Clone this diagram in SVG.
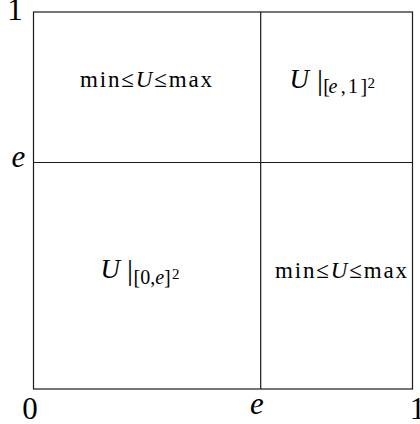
<svg xmlns="http://www.w3.org/2000/svg" width="420" height="424" viewBox="0 0 420 424">
<style>
.ln{stroke:#1a1a1a;stroke-width:1.2;fill:none}
text{font-family:'Liberation Serif','Times New Roman',serif;fill:#000}
.it{font-style:italic}
.ax{font-size:31px}
.mm{font-size:23px}
.U{font-size:27px}
.bar{font-size:30px;font-style:normal}
.sub{font-size:20px}
.sup{font-size:15px}
</style>
<rect width="420" height="424" fill="#fff"/>
<g id="grid">
<rect class="ln" x="33.5" y="12" width="379" height="377"/>
<line class="ln" x1="260.7" y1="12" x2="260.7" y2="389"/>
<line class="ln" x1="33.5" y1="162.5" x2="412.5" y2="162.5"/>
</g>
<g id="axis-labels">
<text class="ax" x="15" y="19.5" text-anchor="middle">1</text>
<text class="ax it" x="18.5" y="167" text-anchor="middle">e</text>
<text class="ax" x="30" y="418.5" text-anchor="middle">0</text>
<text class="ax it" x="257" y="413.5" text-anchor="middle">e</text>
<text class="ax" x="417.5" y="418.5" text-anchor="middle">1</text>
</g>
<g id="cell-top-left">
<text class="mm" x="80" y="87.3" textLength="132" lengthAdjust="spacing">min≤<tspan class="it">U</tspan>≤max</text>
</g>
<g id="cell-top-right">
<text><tspan class="it U" x="289.5" y="88.3">U</tspan><tspan class="bar" x="320" y="90" text-anchor="middle">|</tspan><tspan class="sub" x="323.2" y="93">[</tspan><tspan class="sub it" x="328.5" y="93">e</tspan><tspan class="sub" x="340.8" y="93">,</tspan><tspan class="sub" x="348" y="93">1</tspan><tspan class="sub" x="360.5" y="93">]</tspan><tspan class="sup" x="367.5" y="88.3">2</tspan></text>
</g>
<g id="cell-bottom-left">
<text><tspan class="it U" x="100.5" y="278.3">U</tspan><tspan class="bar" x="130" y="280" text-anchor="middle">|</tspan><tspan class="sub" x="133.5" y="283.7">[0,<tspan class="it">e</tspan>]</tspan><tspan class="sup" x="172" y="279">2</tspan></text>
</g>
<g id="cell-bottom-right">
<text class="mm" x="275" y="278.3" textLength="132" lengthAdjust="spacing">min≤<tspan class="it">U</tspan>≤max</text>
</g>
</svg>
